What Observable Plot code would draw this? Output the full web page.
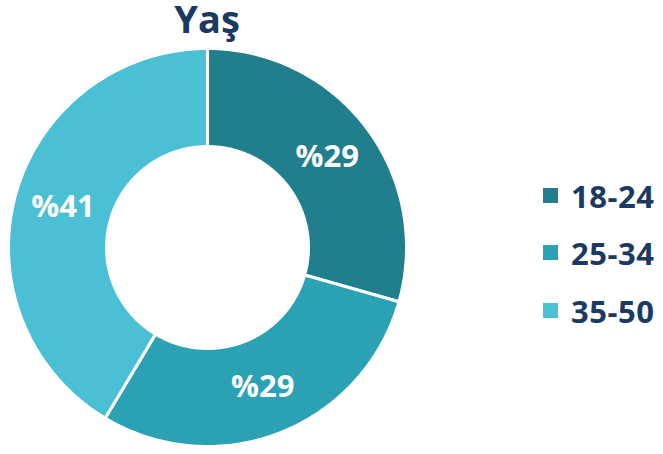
<!DOCTYPE html>
<html>
<head>
<meta charset="utf-8">
<script src="https://cdn.jsdelivr.net/npm/d3@7"></script>
<script src="https://cdn.jsdelivr.net/npm/@observablehq/plot@0.6"></script>
<style>
  html, body { margin: 0; padding: 0; background: #fff; }
  #wrap { position: relative; width: 663px; height: 454px; font-family: "Open Sans", sans-serif; }
  #title { position: absolute; left: 0; width: 414px; top: 0; text-align: center; font-size: 38px; font-weight: 700; color: #1B3A63; line-height: 36px; }
  #legend { position: absolute; left: 543px; top: 0; }
  .item { position: absolute; left: 0; display: flex; align-items: center; white-space: nowrap; }
  .sw { width: 15px; height: 15px; margin-right: 13px; }
  .lab { font-size: 31px; font-weight: 700; color: #1B3A63; line-height: 34px; letter-spacing: 0.5px; }
  #chart { position: absolute; left: 0; top: 0; }
</style>
</head>
<body>
<div id="wrap">
  <div id="chart"></div>
  <div id="title"></div>
  <div id="legend"></div>
</div>
<script>
const title = "Yaş";
const categories = ["18-24", "25-34", "35-50"];
const values = [29.4, 29.2, 41.4];
const labels = ["%29", "%29", "%41"];
const colors = ["#217E8C", "#2BA1B4", "#4BBFD4"];

const innerR = 101, outerR = 199;
const cx = 207, cy = 247;

const pie = d3.pie().sort(null).value(d => d.value)(
  categories.map((c, i) => ({category: c, value: values[i], label: labels[i]}))
);

// arc polygon points (angle measured clockwise from top)
const pts = [];
for (const p of pie) {
  const n = Math.max(2, Math.ceil((p.endAngle - p.startAngle) / (Math.PI / 180)));
  const ring = [];
  for (let k = 0; k <= n; k++) {
    const a = p.startAngle + (p.endAngle - p.startAngle) * k / n;
    ring.push({a, r: outerR});
  }
  for (let k = n; k >= 0; k--) {
    const a = p.startAngle + (p.endAngle - p.startAngle) * k / n;
    ring.push({a, r: innerR});
  }
  ring.push(ring[0]);
  for (const q of ring) pts.push({category: p.data.category, x: q.r * Math.sin(q.a), y: q.r * Math.cos(q.a)});
}
const lbls = pie.map(p => {
  const a = (p.startAngle + p.endAngle) / 2, r = (innerR + outerR) / 2;
  return {label: p.data.label, x: r * Math.sin(a), y: r * Math.cos(a)};
});

const chart = Plot.plot({
  width: 663, height: 454,
  margin: 0,
  x: {domain: [-cx, 663 - cx], range: [0, 663], axis: null},
  y: {domain: [-(454 - cy), cy], range: [454, 0], axis: null},
  color: {domain: categories, range: colors},
  style: {background: "transparent", fontFamily: "Open Sans, sans-serif"},
  marks: [
    Plot.line(pts, {x: "x", y: "y", z: "category", fill: "category", stroke: "white", strokeWidth: 3, curve: "linear-closed"}),
    Plot.text(lbls, {x: "x", y: "y", text: "label", fill: "white", fontSize: 31, fontWeight: 700, fontFamily: "Open Sans, sans-serif"})
  ]
});
document.getElementById("chart").appendChild(chart);
document.getElementById("title").textContent = title;

const rowsY = [195.5, 252.5, 310.5];
const leg = document.getElementById("legend");
categories.forEach((c, i) => {
  const it = document.createElement("div");
  it.className = "item";
  it.style.top = (rowsY[i] - 17) + "px";
  const sw = document.createElement("div");
  sw.className = "sw"; sw.style.background = colors[i];
  const lab = document.createElement("div");
  lab.className = "lab"; lab.textContent = c;
  it.appendChild(sw); it.appendChild(lab);
  leg.appendChild(it);
});
</script>
</body>
</html>
